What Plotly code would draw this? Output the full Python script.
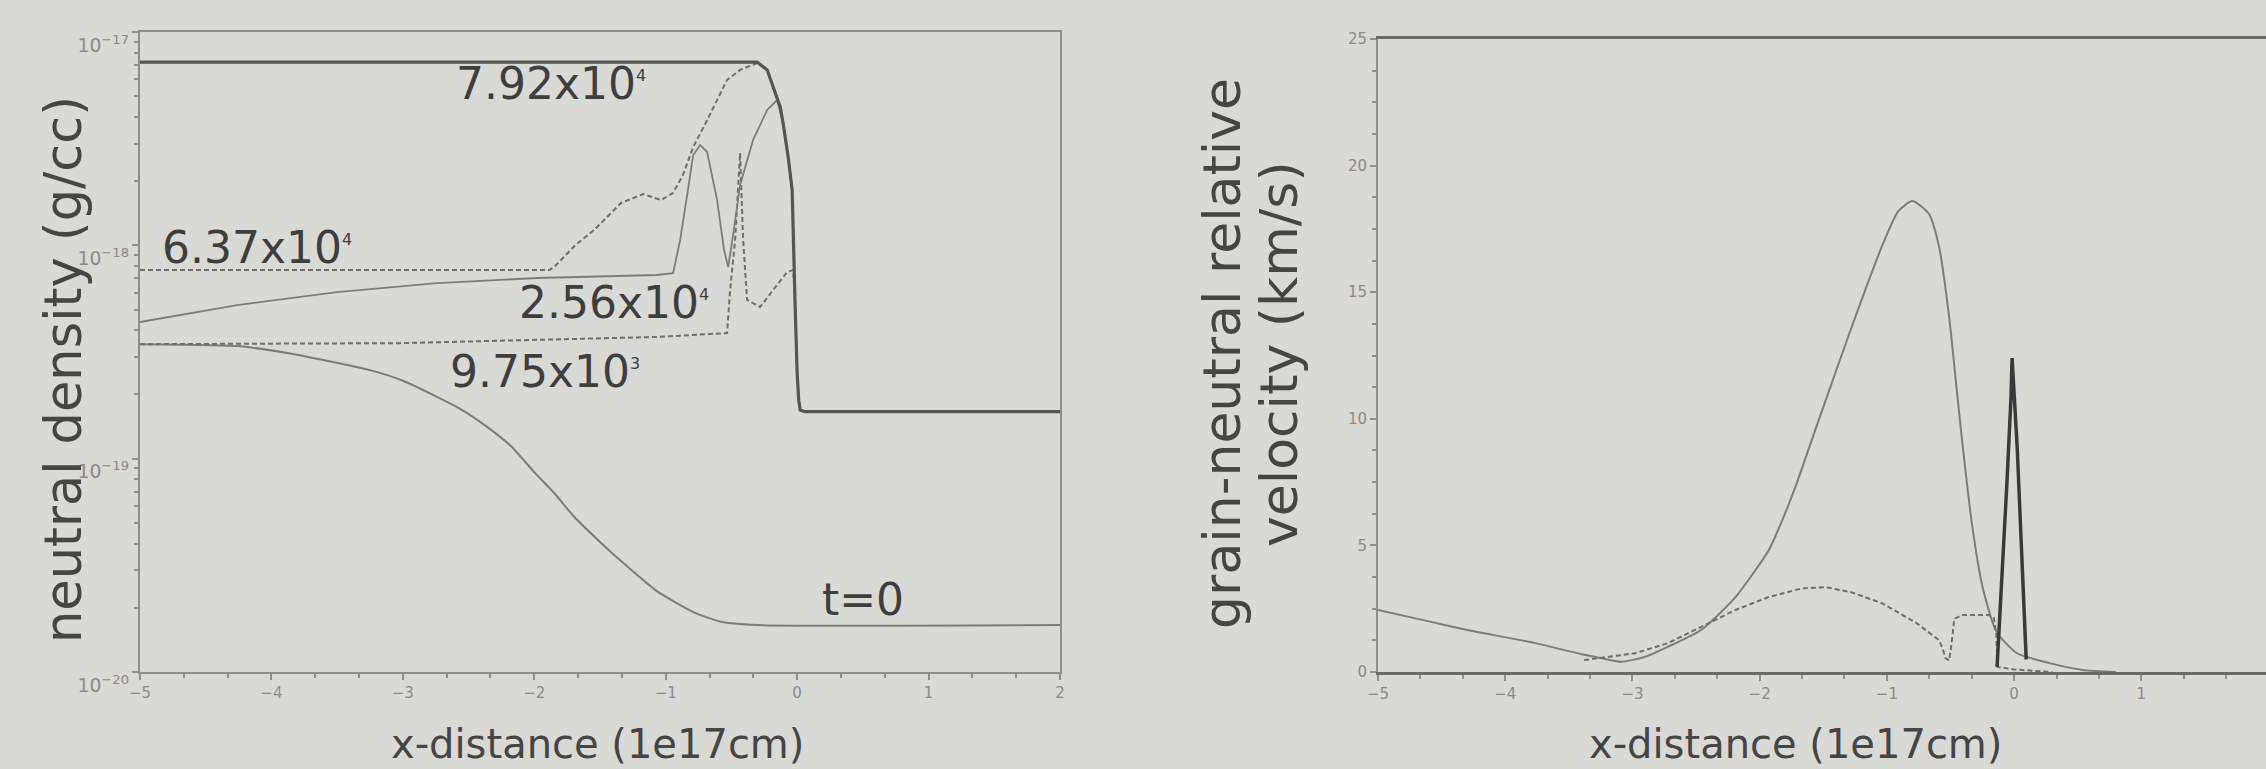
import plotly.graph_objects as go

W, H = 2266, 769

# ---------------- neutral density profiles (x in 1e17 cm, rho in g/cc) ----------------
x_t0 = [-5.00, -4.26, -3.88, -3.25, -3.00, -2.74, -2.57, -2.36, -2.18, -1.99, -1.85,
        -1.70, -1.50, -1.34, -1.07, -0.79, -0.58, -0.30, 2.00]
rho_t0 = [3.44e-19, 3.37e-19, 3.13e-19, 2.60e-19, 2.32e-19, 1.95e-19, 1.72e-19, 1.41e-19,
          1.15e-19, 8.51e-20, 6.92e-20, 5.37e-20, 4.07e-20, 3.31e-20, 2.40e-20, 1.91e-20,
          1.72e-20, 1.66e-20, 1.66e-20]

x_975 = [-5.00, -3.021, -1.065, -0.533, -0.510, -0.472, -0.434, -0.411, -0.381, -0.282,
         -0.183, -0.076, -0.030, -0.015, 0.000, 0.012, 0.023, 0.060, 2.00]
rho_975 = [3.44e-19, 3.48e-19, 3.72e-19, 3.88e-19, 6.17e-19, 1.06e-18, 2.71e-18, 1.06e-18,
           5.55e-19, 5.14e-19, 6.17e-19, 7.50e-19, 7.66e-19, 5.14e-19, 2.52e-19, 1.88e-19,
           1.69e-19, 1.66e-19, 1.66e-19]

x_256 = [-5.00, -4.262, -3.501, -2.740, -1.979, -1.065, -0.944, -0.890, -0.837, -0.791,
         -0.738, -0.685, -0.609, -0.556, -0.525, -0.487, -0.434, -0.335, -0.228, -0.152,
         -0.107, -0.068, -0.038, -0.030, -0.015, 0.000, 0.012, 0.023, 0.060, 2.00]
rho_256 = [4.37e-19, 5.25e-19, 6.04e-19, 6.65e-19, 7.03e-19, 7.26e-19, 7.41e-19, 1.06e-18,
           1.72e-18, 2.65e-18, 2.95e-18, 2.74e-18, 1.63e-18, 9.51e-19, 7.91e-19, 1.12e-18,
           1.92e-18, 3.12e-18, 4.31e-18, 4.80e-18, 3.74e-18, 2.59e-18, 1.82e-18, 1.06e-18,
           5.14e-19, 2.52e-19, 1.88e-19, 1.69e-19, 1.66e-19, 1.66e-19]

x_637 = [-5.00, -1.887, -1.849, -1.689, -1.545, -1.340, -1.172, -1.035, -0.944, -0.868,
         -0.791, -0.685, -0.533, -0.434, -0.304, -0.228, -0.183, -0.129, -0.107, -0.068,
         -0.038, -0.030, -0.015, 0.000, 0.012, 0.023, 0.060, 2.00]
rho_637 = [7.66e-19, 7.66e-19, 7.91e-19, 1.00e-18, 1.18e-18, 1.58e-18, 1.74e-18, 1.63e-18,
           1.76e-18, 2.14e-18, 2.89e-18, 3.86e-18, 5.96e-18, 6.64e-18, 7.16e-18, 6.64e-18,
           5.52e-18, 4.45e-18, 3.74e-18, 2.59e-18, 1.82e-18, 1.06e-18, 5.14e-19, 2.52e-19,
           1.88e-19, 1.69e-19, 1.66e-19, 1.66e-19]

x_792 = [-5.00, -0.304, -0.228, -0.183, -0.129, -0.107, -0.068, -0.038, -0.030, -0.015,
         0.000, 0.012, 0.023, 0.060, 2.00]
rho_792 = [7.23e-18, 7.23e-18, 6.64e-18, 5.52e-18, 4.45e-18, 3.74e-18, 2.59e-18, 1.82e-18,
           1.06e-18, 5.14e-19, 2.52e-19, 1.88e-19, 1.69e-19, 1.66e-19, 1.66e-19]

# curve labels: text, exponent, left edge (x), vertical centre (log10 rho)
label_text = ["7.92x10", "6.37x10", "2.56x10", "9.75x10", "t=0"]
label_exp = ["4", "4", "4", "3", ""]
label_x = [-2.61, -4.85, -2.13, -2.66, 0.175]
label_logy = [-17.24, -18.01, -18.27, -18.59, -19.66]

# ---------------- grain-neutral relative velocity (km/s) ----------------
x_vs = [-5.00, -4.60, -4.30, -3.77, -3.40, -3.25, -3.09, -2.90, -2.72, -2.46, -2.19, -1.93,
        -1.83, -1.72, -1.56, -1.30, -1.04, -0.91, -0.80, -0.67, -0.59, -0.51, -0.46, -0.41,
        -0.33, -0.25, -0.14, 0.02, 0.28, 0.54, 0.80]
v_vs = [2.45, 2.00, 1.66, 1.15, 0.70, 0.55, 0.40, 0.60, 1.00, 1.66, 2.96, 4.80, 5.90, 7.30,
        9.60, 13.3, 16.8, 18.2, 18.6, 18.1, 16.8, 14.0, 11.6, 9.2, 5.8, 3.4, 1.6, 0.75, 0.35,
        0.08, 0.00]

x_vd = [-3.38, -2.98, -2.72, -2.46, -2.19, -1.93, -1.67, -1.48, -1.28, -1.04, -0.77, -0.59,
        -0.56, -0.54, -0.51, -0.49, -0.47, -0.41, -0.20, -0.16, -0.14, -0.13, 0.00, 0.30]
v_vd = [0.47, 0.74, 1.14, 1.78, 2.45, 2.96, 3.30, 3.35, 3.15, 2.72, 1.94, 1.26, 0.90, 0.55,
        0.45, 1.20, 2.10, 2.25, 2.25, 2.15, 1.50, 0.20, 0.10, 0.00]

x_spike = [-0.134, -0.095, -0.055, -0.024, -0.016, 0.024, 0.055, 0.095]
v_spike = [0.2, 3.6, 7.6, 10.9, 12.4, 8.9, 4.9, 0.5]

BG = "#d9d9d5"
AX = "#8e8e8e"
TICKC = "#8a8a8a"
CURVE = "#7c7c7c"
DARK = "#555555"
TXT = "#454545"
FONT = "DejaVu Sans"

fig = go.Figure()


def add_line(x, y, xa, ya, color, width, dash="solid", shape="linear"):
    fig.add_trace(go.Scatter(
        x=x, y=y, mode="lines", xaxis=xa, yaxis=ya, showlegend=False, hoverinfo="skip",
        line=dict(color=color, width=width, dash=dash, shape=shape, smoothing=0.6)))


# density panel
add_line(x_t0, rho_t0, "x", "y", CURVE, 2, shape="spline")
add_line(x_975, rho_975, "x", "y", "#6e6e6e", 2, dash="5px,3px")
add_line(x_256, rho_256, "x", "y", CURVE, 1.8)
add_line(x_637, rho_637, "x", "y", "#6e6e6e", 2, dash="5px,3px")
add_line(x_792, rho_792, "x", "y", DARK, 3.2)

# velocity panel
add_line(x_vs, v_vs, "x2", "y2", CURVE, 2, shape="spline")
add_line(x_vd, v_vd, "x2", "y2", "#6e6e6e", 2, dash="5px,3px")
add_line(x_spike, v_spike, "x2", "y2", "#3a3a3a", 3.5)

tickfont = dict(family=FONT, size=15, color=TICKC)
common_axis = dict(showline=True, linecolor=AX, linewidth=2, mirror=True, showgrid=False,
                   zeroline=False, ticks="outside", tickcolor=AX, tickwidth=1.5, ticklen=6,
                   tickfont=tickfont, automargin=False)

fig.update_layout(
    width=W, height=H, autosize=False,
    margin=dict(l=0, r=0, t=0, b=0, pad=0),
    paper_bgcolor=BG, plot_bgcolor=BG,
    font=dict(family=FONT, color=TXT),
    xaxis=dict(domain=[140 / W, 1060 / W], range=[-5, 2], anchor="y", dtick=1, tick0=0,
               minor=dict(dtick=1 / 3, tick0=0, ticks="outside", ticklen=4, tickcolor=AX),
               **common_axis),
    yaxis=dict(domain=[1 - 672 / H, 1 - 32 / H], type="log", range=[-20, -17], anchor="x",
               dtick=1, exponentformat="power", ticklabelshift=13,
               minor=dict(dtick="D1", ticks="outside", ticklen=4, tickcolor=AX),
               **common_axis),
    xaxis2=dict(domain=[1378 / W, 1.0], range=[-5, 1.98], anchor="y2", dtick=1, tick0=0,
                minor=dict(dtick=1 / 3, tick0=0, ticks="outside", ticklen=4, tickcolor=AX),
                **common_axis),
    yaxis2=dict(domain=[1 - 672 / H, 1 - 39 / H], range=[0, 25], anchor="x2", dtick=5,
                minor=dict(dtick=1.25, ticks="outside", ticklen=4, tickcolor=AX),
                **common_axis),
)
fig.update_xaxes(selector=dict(anchor="y2"), linecolor="#6a6a6a", linewidth=3)

annotations = []
for t, e, lx, ly in zip(label_text, label_exp, label_x, label_logy):
    txt = t if not e else f"{t}<sup><span style='font-size:16px'>{e}</span></sup>"
    annotations.append(dict(x=lx, y=ly, xref="x", yref="y", text=txt, showarrow=False,
                            xanchor="left", yanchor="middle",
                            font=dict(family=FONT, size=44, color="#3e3e3e")))


def paper_text(text, px, py, size, angle=0):
    annotations.append(dict(x=px / W, y=1 - py / H, xref="paper", yref="paper", text=text,
                            showarrow=False, xanchor="center", yanchor="middle",
                            textangle=angle, font=dict(family=FONT, size=size, color=TXT)))


paper_text("x-distance (1e17cm)", 598, 744, 40)
paper_text("x-distance (1e17cm)", 1795, 744, 40)
paper_text("neutral density (g/cc)", 63, 370, 51, angle=-90)
paper_text("grain-neutral relative", 1222, 354, 52, angle=-90)
paper_text("velocity (km/s)", 1279, 354, 52, angle=-90)

fig.update_layout(annotations=annotations)

fig.write_html("out.html")
